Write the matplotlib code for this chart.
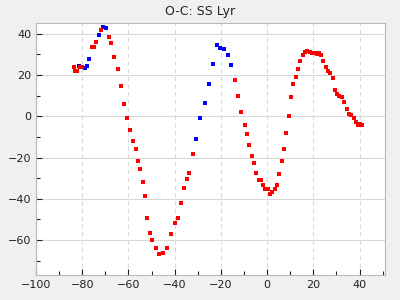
import matplotlib
matplotlib.use("Agg")
import matplotlib.pyplot as plt
from matplotlib.ticker import MultipleLocator

# red series (O-C values)
red_x = [-83.6, -83.3, -82.2, -81.0, -80.0, -75.8, -74.8, -74.0, -71.8, -68.5,
         -67.6, -66.3, -64.6, -63.3, -62.0, -60.7, -59.4, -58.1, -56.8, -55.9,
         -55.1, -53.8, -52.9, -52.1, -50.8, -49.9, -48.2, -46.9, -45.1, -43.4,
         -41.7, -39.9, -38.6, -37.3, -36.0, -34.8, -33.9, -32.2, -14.0, -12.7,
         -11.4, -9.7, -8.8, -7.9, -6.6, -5.8, -4.9, -3.6, -2.7, -1.9,
         -1.0, 0.3, 1.2, 2.0, 3.3, 4.2, 5.0, 6.3, 7.2, 8.1,
         9.4, 10.2, 11.1, 12.4, 13.3, 14.1, 15.4, 16.3, 17.2, 18.5,
         19.3, 20.6, 21.5, 22.3, 23.2, 24.1, 25.4, 26.2, 27.1, 28.4,
         29.3, 30.1, 31.0, 32.3, 33.2, 34.5, 35.3, 36.2, 37.5, 38.4,
         39.2, 40.1, 41.0]
red_y = [23.7, 22.2, 21.9, 24.0, 23.7, 33.8, 33.8, 36.1, 42.0, 38.6,
         35.7, 29.0, 22.7, 14.5, 5.8, -1.0, -6.8, -12.1, -15.9, -21.7,
         -25.6, -31.9, -38.6, -49.3, -56.5, -59.9, -63.7, -66.6, -66.2, -63.7,
         -57.0, -51.7, -49.3, -42.0, -34.8, -30.4, -27.5, -18.4, 17.4, 9.7,
         1.9, -4.3, -8.7, -14.0, -19.3, -22.7, -27.5, -30.9, -30.9, -33.3,
         -35.3, -35.3, -37.7, -36.7, -35.3, -33.3, -28.0, -21.7, -15.9, -8.2,
         0.0, 9.2, 15.9, 19.3, 22.7, 26.6, 29.5, 31.4, 31.9, 31.4,
         30.9, 30.9, 30.4, 30.9, 29.5, 26.6, 23.7, 22.2, 20.8, 18.4,
         13.0, 10.6, 9.7, 9.2, 6.8, 3.4, 1.0, 0.5, -1.0, -2.9,
         -4.3, -3.9, -4.3]

# blue series
blue_x = [-81.2, -78.9, -78.0, -77.1, -72.8, -71.1, -69.8, -30.9, -29.1, -27.0,
          -25.2, -23.5, -21.8, -20.5, -18.7, -17.0, -15.7]
blue_y = [24.3, 23.2, 24.6, 28.0, 39.6, 43.5, 43.0, -11.1, -1.0, 6.3,
          15.5, 25.6, 34.8, 33.3, 32.4, 29.5, 25.1]

fig = plt.figure(figsize=(4, 3), dpi=100, facecolor="#f0f0f0")
ax = fig.add_axes([0.09, 0.083, 0.8725, 0.84])
ax.set_facecolor("white")

ax.plot(blue_x, blue_y, "s", color="#0000ff", markersize=3, markeredgewidth=0, zorder=3)
ax.plot(red_x, red_y, "s", color="#ff0000", markersize=3, markeredgewidth=0, zorder=4)

ax.set_xlim(-100, 51)
ax.set_ylim(-77, 45.2)
ax.xaxis.set_major_locator(MultipleLocator(20))
ax.xaxis.set_minor_locator(MultipleLocator(10))
ax.yaxis.set_major_locator(MultipleLocator(20))
ax.yaxis.set_minor_locator(MultipleLocator(10))

ax.grid(axis="x", which="major", color="#d8d8d8", linestyle=(0, (4, 3)), linewidth=0.8)
ax.grid(axis="y", which="major", color="#d8d8d8", linestyle="-", linewidth=0.8)
ax.set_axisbelow(True)

ax.tick_params(which="both", direction="in", colors="#222222", labelsize=8,
               labelcolor="#222222", top=False, right=False)
ax.tick_params(which="major", length=4, width=0.8)
ax.tick_params(which="minor", length=3, width=0.8)
for s in ax.spines.values():
    s.set_color("#b8b8b8")
    s.set_linewidth(0.8)

fig.text(0.5, 0.962, "O-C: SS Lyr", ha="center", va="center", fontsize=9, color="#222222")

fig.savefig("out.png", dpi=100, facecolor=fig.get_facecolor())
